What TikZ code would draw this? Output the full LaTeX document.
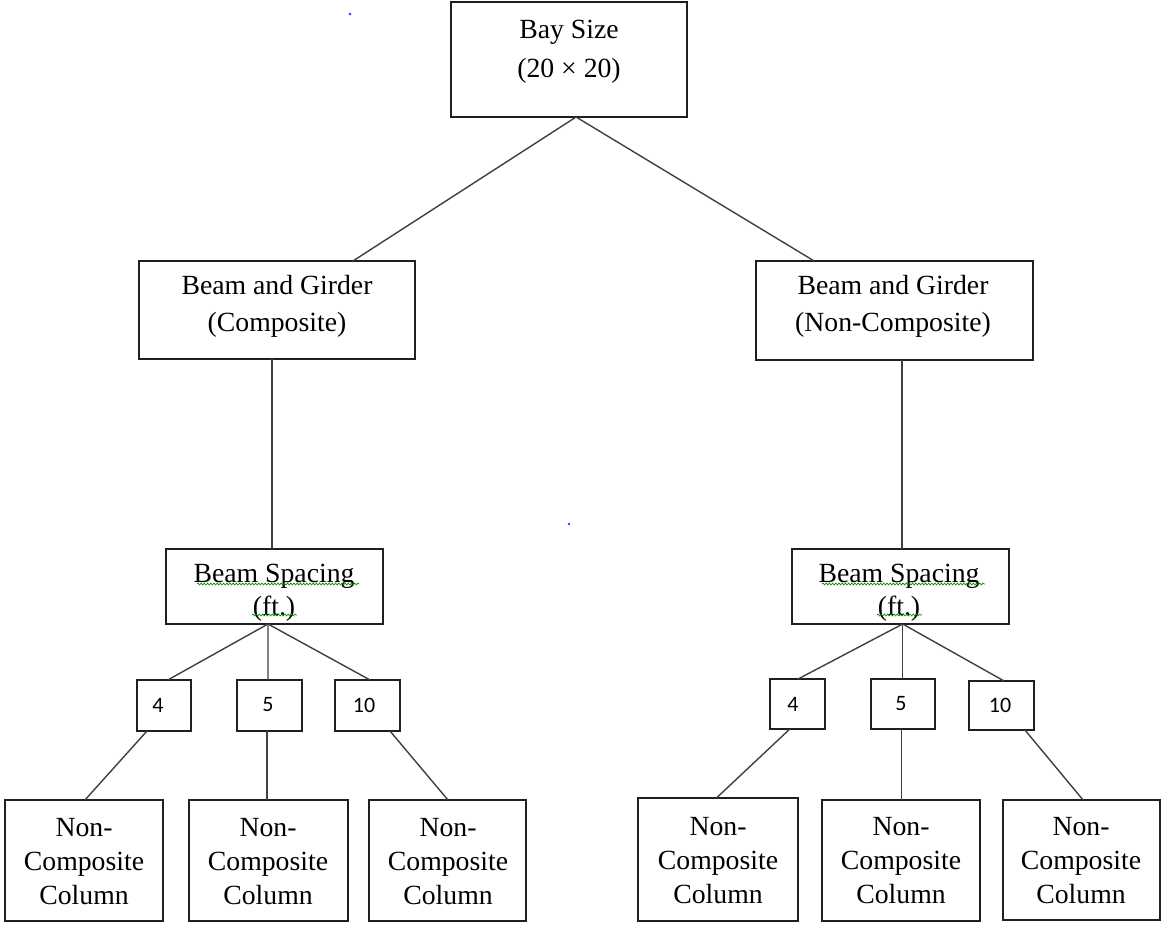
\documentclass[tikz,border=0pt]{standalone}
\usepackage{fontspec}
\setmainfont{Liberation Serif}
\newfontfamily\numfont{Carlito}
\usetikzlibrary{calc,decorations.pathmorphing}

% point at fraction #3 along the #2 edge (north/south) of node #1
\newcommand\onedge[3]{($(#1.#2 west)!#3!(#1.#2 east)$)}
% rectangle node from pixel corners (x1,y1)-(x2,y2)
\newcommand\boxat[5]{\node[box, minimum width={(#4-#2)*0.75pt}, minimum height={(#5-#3)*0.75pt}] (#1) at ({(#2+#4)/2},{(#3+#5)/2}) {};}

\begin{document}
\begin{tikzpicture}[x=0.75pt, y=-0.75pt,
  box/.style={draw=black!88, line width=1.4pt, inner sep=0pt, outer sep=0pt, fill=white},
  conn/.style={draw=black!75, line width=1.05pt},
  txt/.style={align=center, inner sep=0pt, font=\fontsize{20.8}{#1}\selectfont},
  txt/.default=27.75pt,
  num/.style={inner sep=0pt, font=\numfont\fontsize{16.5}{20}\selectfont},
  squig/.style={draw=green!55!black, line width=0.5pt, decorate,
    decoration={snake, amplitude=0.7pt, segment length=2.4pt}}]
\useasboundingbox[fill=white] (0,0) rectangle (1162,924);

% boxes
\boxat{bay}{451}{2}{687}{117}
\boxat{bgl}{139}{261}{415}{359}
\boxat{bgr}{756}{261}{1033}{360}
\boxat{bsl}{166}{549}{383}{624}
\boxat{bsr}{792}{549}{1009}{624}
\boxat{nfl}{137}{680}{191}{731}
\boxat{nvl}{237}{680}{302}{731}
\boxat{ntl}{335}{680}{400}{731}
\boxat{nfr}{770}{679}{825}{729}
\boxat{nvr}{871}{679}{935}{729}
\boxat{ntr}{969}{681}{1034}{730}
\boxat{cal}{5}{800}{163}{921}
\boxat{cbl}{189}{800}{348}{921}
\boxat{ccl}{369}{800}{526}{921}
\boxat{car}{638}{798}{798}{921}
\boxat{cbr}{822}{800}{980}{921}
\boxat{ccr}{1003}{800}{1160}{920}

% box texts
\node[txt=29.25pt] (baytx) at (569,51.5) {Bay Size\\(20 × 20)};
\node[txt] (bgltx) at (277,306.5) {Beam and Girder\\(Composite)};
\node[txt] (bgrtx) at (893,306.5) {Beam and Girder\\(Non-Composite)};
\node[txt=24.75pt] (bsltx) at (274,592.5) {Beam Spacing\\(ft.)};
\node[txt=24.75pt] (bsrtx) at (899,592.5) {Beam Spacing\\(ft.)};
\node[num] (nfltx) at (158,705) {4};
\node[num] (nvltx) at (268,705) {5};
\node[num] (ntltx) at (364,705) {10};
\node[num] (nfrtx) at (793,704) {4};
\node[num] (nvrtx) at (901,704) {5};
\node[num] (ntrtx) at (1000,705) {10};
\foreach \c/\x/\y in {cal/84/862, cbl/268/862, ccl/448/862, car/718/860.5, cbr/901/860.5, ccr/1081/860.5}
  \node[txt=25.5pt] (\c tx) at (\x,\y) {Non-\\Composite\\Column};

% connectors
\draw[conn] \onedge{bay}{south}{0.53} -- \onedge{bgl}{north}{0.775};
\draw[conn] \onedge{bay}{south}{0.53} -- \onedge{bgr}{north}{0.21};
\path \onedge{bsl}{north}{0.488} coordinate (vl);
\draw[conn] (vl |- bgl.south) -- (vl);
\path \onedge{bsr}{north}{0.507} coordinate (vr);
\draw[conn] (vr |- bgr.south) -- (vr);

\draw[conn] \onedge{bsl}{south}{0.47} -- \onedge{nfl}{north}{0.57};
\draw[conn] \onedge{bsl}{south}{0.47} -- \onedge{nvl}{north}{0.477};
\draw[conn] \onedge{bsl}{south}{0.47} -- \onedge{ntl}{north}{0.54};
\path \onedge{bsr}{south}{0.51} coordinate (sr);
\draw[conn] (sr) -- \onedge{nfr}{north}{0.51};
\draw[conn] (sr) -- (sr |- nvr.north);
\draw[conn] (sr) -- \onedge{ntr}{north}{0.54};

\draw[conn] \onedge{nfl}{south}{0.185} -- \onedge{cal}{north}{0.506};
\path \onedge{nvl}{south}{0.46} coordinate (dl);
\draw[conn] (dl) -- (dl |- cbl.north);
\draw[conn] \onedge{ntl}{south}{0.846} -- \onedge{ccl}{north}{0.503};
\draw[conn] \onedge{nfr}{south}{0.36} -- \onedge{car}{north}{0.49};
\path \onedge{nvr}{south}{0.48} coordinate (dr);
\draw[conn] (dr) -- (dr |- cbr.north);
\draw[conn] \onedge{ntr}{south}{0.86} -- \onedge{ccr}{north}{0.51};

% spell-check squiggles under the spacing labels
\draw[squig] (197,584) -- (359,584);
\draw[squig] (252,615) -- (297,615);
\draw[squig] (822,584) -- (985,584);
\draw[squig] (877,615) -- (922,615);

% stray marks
\fill[blue!80] (350,14) circle (1.3);
\fill[blue!80] (569,524) circle (1.3);
\end{tikzpicture}
\end{document}
